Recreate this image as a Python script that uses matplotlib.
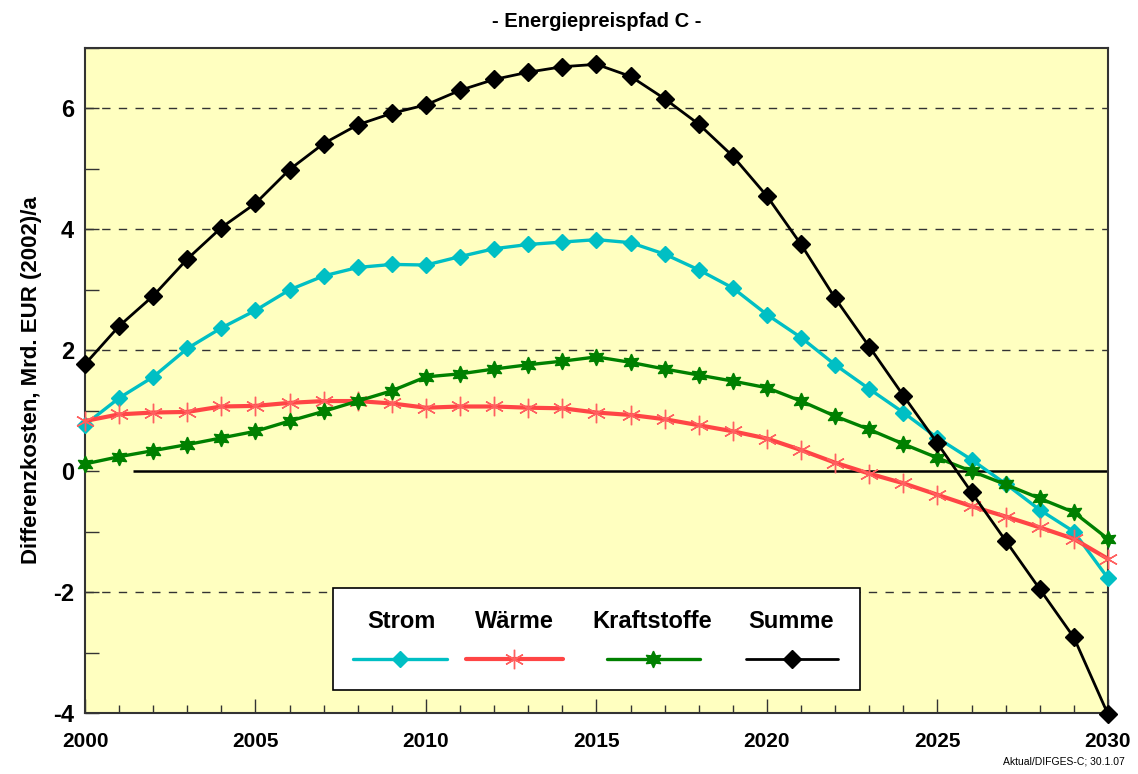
import matplotlib
matplotlib.use('Agg')
import matplotlib.pyplot as plt
from matplotlib.lines import Line2D
from matplotlib.patches import Rectangle
from matplotlib.ticker import MultipleLocator

plt.rcParams['font.family'] = ['Liberation Sans', 'DejaVu Sans']
plt.rcParams['font.weight'] = 'bold'
plt.rcParams['axes.unicode_minus'] = False

# Data:
years = list(range(2000, 2031))
strom = [0.77, 1.21, 1.56, 2.03, 2.37, 2.66, 3.00, 3.23, 3.37, 3.42, 3.41,
         3.55, 3.68, 3.75, 3.79, 3.83, 3.78, 3.59, 3.33, 3.03, 2.59,
         2.21, 1.76, 1.36, 0.97, 0.55, 0.19, -0.21, -0.64, -1.00, -1.77]
waerme = [0.83, 0.94, 0.97, 0.98, 1.07, 1.08, 1.13, 1.16, 1.16, 1.12, 1.05,
          1.07, 1.07, 1.05, 1.04, 0.97, 0.93, 0.86, 0.76, 0.66, 0.54,
          0.35, 0.14, -0.04, -0.20, -0.39, -0.58, -0.75, -0.93, -1.12, -1.45]
kraftstoffe = [0.12, 0.24, 0.34, 0.44, 0.55, 0.66, 0.83, 0.99, 1.16, 1.33, 1.56,
               1.61, 1.69, 1.76, 1.82, 1.89, 1.80, 1.69, 1.59, 1.49, 1.38,
               1.16, 0.91, 0.69, 0.45, 0.22, 0.00, -0.22, -0.45, -0.68, -1.12]
summe = [1.77, 2.40, 2.90, 3.51, 4.03, 4.43, 4.99, 5.42, 5.73, 5.92, 6.06,
         6.30, 6.48, 6.60, 6.69, 6.73, 6.53, 6.16, 5.74, 5.21, 4.55,
         3.75, 2.86, 2.06, 1.25, 0.46, -0.35, -1.15, -1.95, -2.75, -4.02]

labels = ['Strom', 'Wärme', 'Kraftstoffe', 'Summe']
styles = [
    dict(color='#00BFC4', lw=2.4, marker='D', ms=8, mfc='#00BFC4', mec='#00BFC4'),
    dict(color='#FF4545', lw=3.0, marker=(6, 2, 0), ms=14, mfc='none', mec='#FF6060', mew=1.0),
    dict(color='#008000', lw=2.4, marker=(6, 1, 0), ms=12, mfc='#008000', mec='#008000'),
    dict(color='black', lw=2.0, marker='D', ms=9, mfc='black', mec='black'),
]

fig = plt.figure(figsize=(11.38, 7.74), dpi=100)
ax = fig.add_axes([0.0747, 0.0788, 0.8989, 0.8592])
ax.set_facecolor('#FFFFC0')

# Grid and zero line:
for yg in [-2, 2, 4, 6]:
    ax.axhline(yg, color='#333333', lw=1.0, dashes=(6, 6), zorder=1)
ax.hlines(0, 2001.4, 2030, color='black', lw=1.8, zorder=1)

series = [strom, waerme, kraftstoffe, summe]
for vals, st in zip(series, styles):
    ax.plot(years, vals, zorder=3, clip_on=False, **st)

ax.set_xlim(2000, 2030)
ax.set_ylim(-4, 7)
ax.xaxis.set_major_locator(MultipleLocator(5))
ax.xaxis.set_minor_locator(MultipleLocator(1))
ax.yaxis.set_major_locator(MultipleLocator(2))
ax.yaxis.set_minor_locator(MultipleLocator(1))
ax.tick_params(axis='both', which='both', direction='in', color='#333333')
ax.tick_params(axis='x', which='major', length=10, width=1, labelsize=15, pad=14)
ax.tick_params(axis='x', which='minor', length=6, width=1)
ax.tick_params(axis='y', which='major', length=10, width=1, labelsize=17, pad=8)
ax.tick_params(axis='y', which='minor', length=10, width=1)
for lab in ax.get_xticklabels() + ax.get_yticklabels():
    lab.set_fontweight('bold')
for sp in ax.spines.values():
    sp.set_linewidth(1.5)
    sp.set_color('#333333')

ax.set_ylabel('Differenzkosten, Mrd. EUR (2002)/a', fontsize=16, fontweight='bold', labelpad=8)
ax.set_title('- Energiepreispfad C -', fontsize=14.5, fontweight='bold', pad=15)

# Legend box with text above the line samples:
ax.add_patch(Rectangle((0.242, 0.035), 0.516, 0.153, transform=ax.transAxes,
                       facecolor='white', edgecolor='black', lw=1.2, zorder=5))
text_x = [0.309, 0.420, 0.554, 0.690]
line_x = [(0.262, 0.354), (0.372, 0.467), (0.510, 0.601), (0.646, 0.736)]
for lab, st, tx, (x0, x1) in zip(labels, styles, text_x, line_x):
    ax.text(tx, 0.138, lab, transform=ax.transAxes, ha='center', va='center',
            fontsize=17, fontweight='bold', zorder=6)
    ax.add_line(Line2D([x0, x1], [0.081, 0.081], transform=ax.transAxes,
                       color=st['color'], lw=st['lw'], solid_capstyle='round', zorder=6))
    ax.add_line(Line2D([(x0 + x1) / 2], [0.081], transform=ax.transAxes, lw=0,
                       marker=st['marker'], ms=st['ms'], mfc=st['mfc'], mec=st['mec'],
                       mew=st.get('mew', 1.0), zorder=7))

fig.text(0.988, 0.01, 'Aktual/DIFGES-C; 30.1.07', ha='right', va='bottom',
         fontsize=7.5, fontweight='normal')

fig.savefig('out.png', dpi=100)
